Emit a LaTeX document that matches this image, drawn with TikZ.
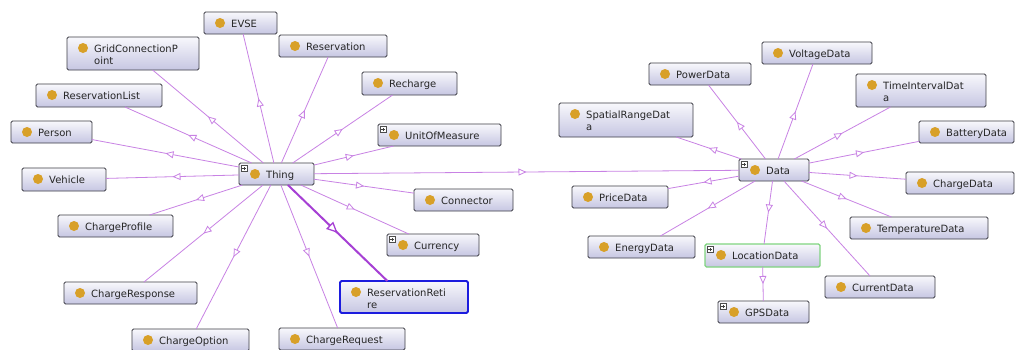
\documentclass[tikz,border=0pt]{standalone}
\usepackage{fontspec}
\setmainfont{DejaVu Sans}
\usetikzlibrary{arrows.meta,decorations.markings}
\definecolor{boxtop}{RGB}{248,248,252}
\definecolor{boxbot}{RGB}{198,198,226}
\definecolor{boxline}{RGB}{62,62,70}
\definecolor{dotc}{RGB}{216,160,40}
\definecolor{edgec}{RGB}{200,130,228}
\definecolor{edgesel}{RGB}{166,64,212}
\definecolor{selblue}{RGB}{28,28,222}
\definecolor{selgreen}{RGB}{128,212,128}
\newcommand{\twoline}[2]{\begin{tabular}[t]{@{}l@{}}#1\\#2\end{tabular}}
\newcommand{\clsnode}[7][]{%
  \node[clsbox, minimum width={(#5-#3)*1pt}, minimum height={(#6-#4)*1pt}, #1] (#2) at (#3,#4) {};
  \node[clsdot] (#2-dot) at (#3+16,#4+11) {};
  \node[clstext] (#2-txt) at (#3+27,#4+15) {#7};
}
\newcommand{\plusmark}[3]{\node[plusbox] (#1-plus) at (#2+2,#3+2) {};
  \draw[black!75, line width=0.5pt] (#1-plus.west) ++(1.2pt,0) -- ++(3.6pt,0) (#1-plus.south) ++(0,1.2pt) -- ++(0,3.6pt);}
\tikzset{
  clsbox/.style={rectangle, rounded corners=1.5pt, draw=boxline, line width=0.9pt,
    top color=boxtop, bottom color=boxbot, inner sep=0pt, outer sep=0pt, anchor=north west},
  clsdot/.style={circle, fill=dotc, inner sep=0pt, minimum size=10pt},
  clstext/.style={inner sep=0pt, anchor=base west, font=\fontsize{10}{12.5}\selectfont, text=black!85},
  plusbox/.style={rectangle, draw=black!70, fill=white, line width=0.5pt, inner sep=0pt, minimum size=6pt, anchor=north west},
  subcls/.style={draw=edgec, line width=0.8pt, postaction={decorate},
    decoration={markings, mark=at position 0.5 with {\arrow{Triangle[open, fill=white, length=8pt, width=7pt]}}}},
  subsel/.style={draw=edgesel, line width=2pt, postaction={decorate},
    decoration={markings, mark=at position 0.5 with {\arrow{Triangle[open, fill=white, length=11pt, width=10pt, line width=1.3pt]}}}}
}
\begin{document}
\begin{tikzpicture}[x=1pt, y=-1pt]
\useasboundingbox (0,0) rectangle (1018,349);
\fill[white] (0,0) rectangle (1018,349);
% Thing side
\clsnode{evse}{204}{12}{277}{34}{EVSE}
\clsnode{grid}{67}{37}{199}{70}{\twoline{GridConnectionP}{oint}}
\clsnode{reservation}{279}{35}{387}{57}{Reservation}
\clsnode{recharge}{362}{72}{457}{95}{Recharge}
\clsnode{reslist}{36}{84}{162}{107}{ReservationList}
\clsnode{person}{11}{121}{92}{143}{Person}
\clsnode{unit}{378}{124}{501}{146}{UnitOfMeasure}
\plusmark{unit}{378}{124}
\clsnode{thing}{239}{163}{314}{185}{Thing}
\plusmark{thing}{239}{163}
\clsnode{vehicle}{22}{168}{106}{191}{Vehicle}
\clsnode{connector}{414}{189}{513}{211}{Connector}
\clsnode{profile}{58}{215}{173}{237}{ChargeProfile}
\clsnode{currency}{387}{234}{479}{256}{Currency}
\plusmark{currency}{387}{234}
\clsnode{response}{64}{282}{197}{304}{ChargeResponse}
\clsnode[draw=selblue, line width=1.8pt]{retire}{340}{281}{468}{313}{\twoline{ReservationReti}{re}}
\clsnode{option}{132}{329}{249}{351}{ChargeOption}
\clsnode{request}{279}{328}{405}{350}{ChargeRequest}
% Data side
\clsnode{voltage}{762}{42}{872}{64}{VoltageData}
\clsnode{power}{649}{63}{751}{85}{PowerData}
\clsnode{timeint}{856}{74}{986}{107}{\twoline{TimeIntervalDat}{a}}
\clsnode{spatial}{559}{103}{693}{137}{\twoline{SpatialRangeDat}{a}}
\clsnode{battery}{919}{121}{1014}{143}{BatteryData}
\clsnode{data}{739}{159}{809}{181}{Data}
\plusmark{data}{739}{159}
\clsnode{charge}{906}{172}{1014}{194}{ChargeData}
\clsnode{price}{572}{186}{668}{208}{PriceData}
\clsnode{temp}{850}{217}{988}{239}{TemperatureData}
\clsnode{energy}{588}{236}{695}{258}{EnergyData}
\clsnode[draw=selgreen, line width=1.4pt]{location}{705}{244}{820}{267}{LocationData}
\plusmark{location}{705}{244}
\clsnode{current}{825}{276}{935}{298}{CurrentData}
\clsnode{gps}{718}{301}{809}{323}{GPSData}
\plusmark{gps}{718}{301}
% connectors
\foreach \c in {evse,grid,reservation,recharge,reslist,person,unit,vehicle,connector,profile,currency,response,option,request,data}
  \draw[subcls] (thing) -- (\c);
\draw[subsel] (thing) -- (retire);
\foreach \c in {voltage,power,timeint,spatial,battery,charge,price,temp,energy,location,current}
  \draw[subcls] (data) -- (\c);
\draw[subcls] (location) -- (gps);
\end{tikzpicture}
\end{document}
